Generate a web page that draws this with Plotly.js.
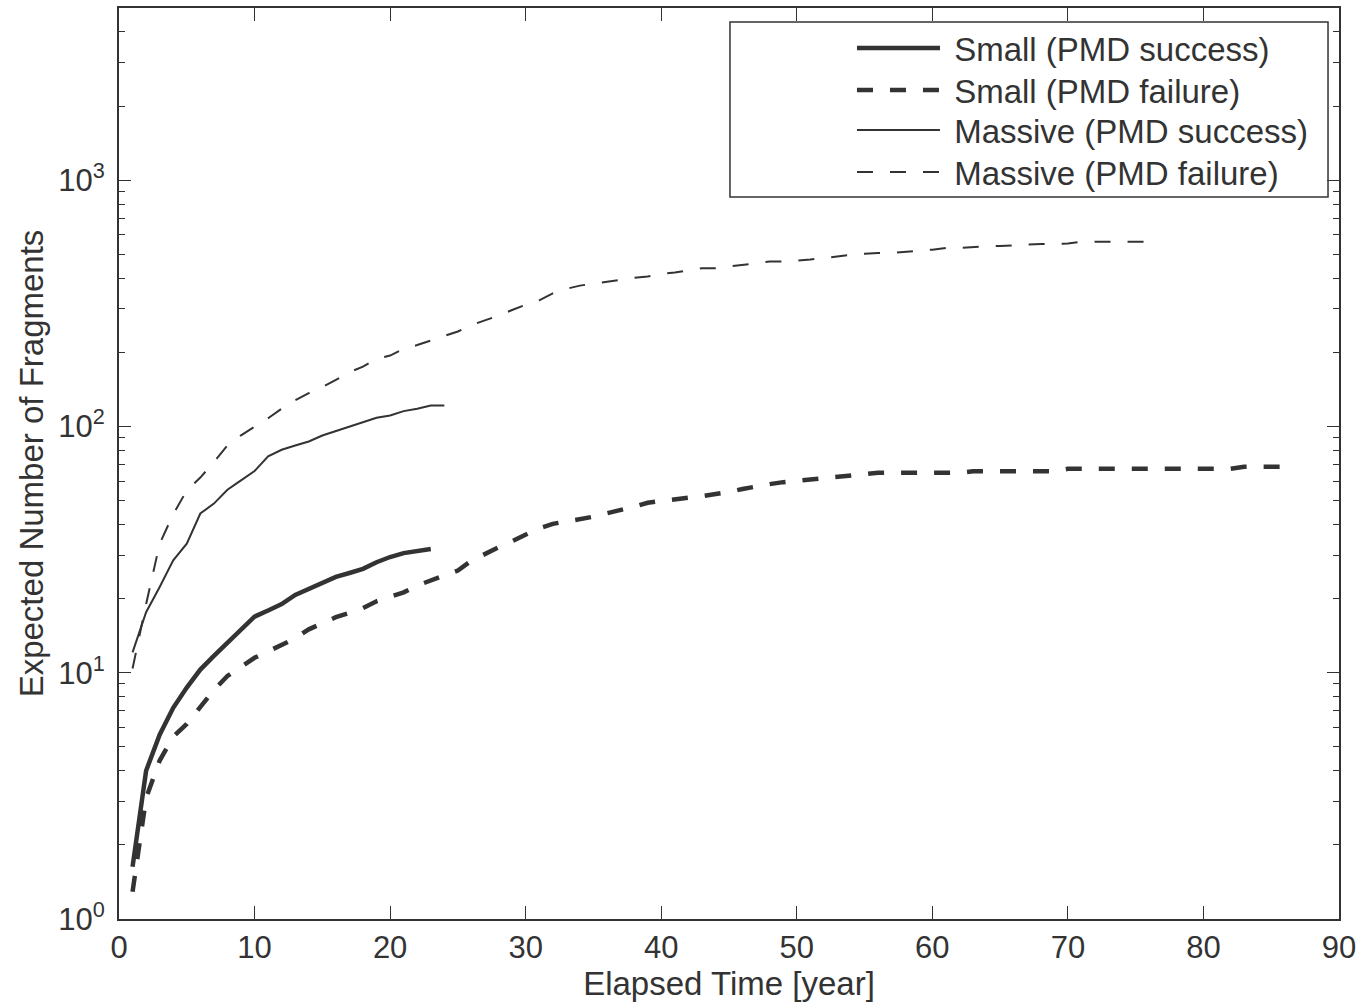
<!DOCTYPE html>
<html>
<head>
<meta charset="utf-8">
<script src="https://cdn.plot.ly/plotly-3.0.1.min.js"></script>
<style>html,body{margin:0;padding:0;background:#fff;}#chart{width:1364px;height:1005px;}</style>
</head>
<body>
<div id="chart"></div>
<script>
// ---- data ----
const seriesNames = ["Small (PMD success)", "Small (PMD failure)", "Massive (PMD success)", "Massive (PMD failure)"];

const smallSuccessYears = [1,2,3,4,5,6,7,8,9,10,11,12,13,14,15,16,17,18,19,20,21,22,23];
const smallSuccess = [1.63,4.0,5.6,7.2,8.7,10.3,11.7,13.2,15.0,16.9,17.9,19.0,20.7,21.9,23.0,24.5,25.4,26.4,28.1,29.5,30.6,31.1,31.8];

const smallFailureYears = [1,2,3,4,5,6,7,8,9,10,11,12,13,14,15,16,17,18,19,20,21,22,23,24,25,26,27,28,29,30,
  31,32,33,34,35,36,37,38,39,40,41,42,43,44,45,46,47,48,49,50,51,52,53,54,55,56,57,58,59,60,
  61,62,63,64,65,66,67,68,69,70,71,72,73,74,75,76,77,78,79,80,81,82,83,84,85,86];
const smallFailure = [1.29,3.1,4.4,5.5,6.2,7.2,8.5,9.7,10.6,11.5,12.2,13.0,13.8,15.0,15.9,16.8,17.5,18.3,19.5,20.4,21.2,22.6,23.7,24.6,26.0,28.5,30.5,32.3,34.2,36.2,
  38.6,40.2,41.0,42.0,43.0,44.4,45.7,47.2,49.0,49.9,50.7,51.4,52.1,52.9,54.2,55.7,57.2,58.3,59.4,60.2,61.0,61.8,62.5,63.3,64.0,64.8,64.8,64.8,64.8,64.8,
  64.8,64.8,65.8,65.8,65.8,65.8,65.8,65.8,65.8,67.3,67.3,67.3,67.3,67.3,67.3,67.3,67.3,67.3,67.3,67.3,67.3,67.3,68.6,68.6,68.6,68.6];

const massiveSuccessYears = [1,2,3,4,5,6,7,8,9,10,11,12,13,14,15,16,17,18,19,20,21,22,23,24];
const massiveSuccess = [12.1,17.6,22.3,28.6,33.4,44.3,48.6,55.3,60.4,65.9,75.6,80.4,83.7,86.9,91.9,95.7,99.3,103.5,108.4,110.8,115.4,118,121.7,121.7];

const massiveFailureYears = [1,2,3,4,5,6,7,8,9,10,11,12,13,14,15,16,17,18,19,20,21,22,23,24,25,26,27,28,29,30,
  31,32,33,34,35,36,37,38,39,40,41,42,43,44,45,46,47,48,49,50,51,52,53,54,55,56,57,58,59,60,
  61,62,63,64,65,66,67,68,69,70,71,72,73,74,75,76];
const massiveFailure = [10.4,19,33.4,44,55,62,71.7,83.7,92,99.3,108,118,127.6,136.6,144.5,154.6,166,175,188,194,206.5,214,223,234,243,258,269,282,297,312,
  325,347,362,373,380,387,396,401,406,416,422,429,439,439,446,453,460,467,467,471,476,483,491,497,502,506,506,510,517,522,
  530,530,535,540,540,545,548,550,550,553,562,562,562,562,562,562];

const xTickVals = [0,10,20,30,40,50,60,70,80,90];
const yTickVals = [1,10,100,1000];
const yTickText = ["10<sup>0</sup>","10<sup>1</sup>","10<sup>2</sup>","10<sup>3</sup>"];

// ---- styling ----
const ink = "#333333";
const fontFamily = "'Liberation Sans', Arial, Helvetica, sans-serif";
const gap = "\u00a0";

const traces = [
  {x: smallSuccessYears, y: smallSuccess, name: gap + seriesNames[0], mode: "lines", legend: "legend",
   line: {color: ink, width: 4.5, dash: "solid"}},
  {x: smallFailureYears, y: smallFailure, name: gap + seriesNames[1], mode: "lines", legend: "legend2",
   line: {color: ink, width: 4.5, dash: "16px,17px"}},
  {x: massiveSuccessYears, y: massiveSuccess, name: gap + seriesNames[2], mode: "lines", legend: "legend3",
   line: {color: ink, width: 2, dash: "solid"}},
  {x: massiveFailureYears, y: massiveFailure, name: gap + seriesNames[3], mode: "lines", legend: "legend4",
   line: {color: ink, width: 2, dash: "16px,17px"}}
];

function legendAt(yPaper) {
  return {
    x: 0.6008, y: yPaper, xanchor: "left", yanchor: "middle",
    bgcolor: "rgba(0,0,0,0)", borderwidth: 0,
    font: {size: 33, color: ink, family: fontFamily}, itemwidth: 83
  };
}

const layout = {
  width: 1364, height: 1005,
  margin: {l: 119, r: 25, t: 8, b: 86},
  paper_bgcolor: "#ffffff", plot_bgcolor: "#ffffff",
  font: {family: fontFamily, color: ink, size: 31},
  showlegend: true,
  xaxis: {
    range: [0, 90], tickvals: xTickVals, ticks: "inside", ticklen: 13, tickwidth: 1, tickcolor: ink,
    showline: true, linecolor: ink, linewidth: 2, mirror: "ticks", showgrid: false, zeroline: false,
    tickfont: {size: 31, color: ink},
    title: {text: "Elapsed Time [year]", font: {size: 33, color: ink}, standoff: 5}
  },
  yaxis: {
    type: "log", range: [0, Math.log10(5000)], tickvals: yTickVals, ticktext: yTickText,
    ticks: "inside", ticklen: 12, tickwidth: 1, tickcolor: ink,
    minor: {ticks: "inside", ticklen: 6, tickwidth: 1, tickcolor: ink, dtick: "D1", showgrid: false},
    showline: true, linecolor: ink, linewidth: 2, mirror: "ticks", showgrid: false, zeroline: false,
    tickfont: {size: 31, color: ink}, ticklabelstandoff: 6,
    title: {text: "Expected Number of Fragments", font: {size: 33, color: ink}, standoff: 5}
  },
  legend: legendAt(0.9561),
  legend2: legendAt(0.9100),
  legend3: legendAt(0.8661),
  legend4: legendAt(0.8200),
  shapes: [
    {type: "rect", xref: "paper", yref: "paper", x0: 0.5008, x1: 0.991, y0: 0.7925, y1: 0.9846,
     line: {color: ink, width: 1.5}, fillcolor: "rgba(255,255,255,1)", layer: "below"}
  ]
};

Plotly.newPlot("chart", traces, layout, {displayModeBar: false, staticPlot: true});
</script>
</body>
</html>
